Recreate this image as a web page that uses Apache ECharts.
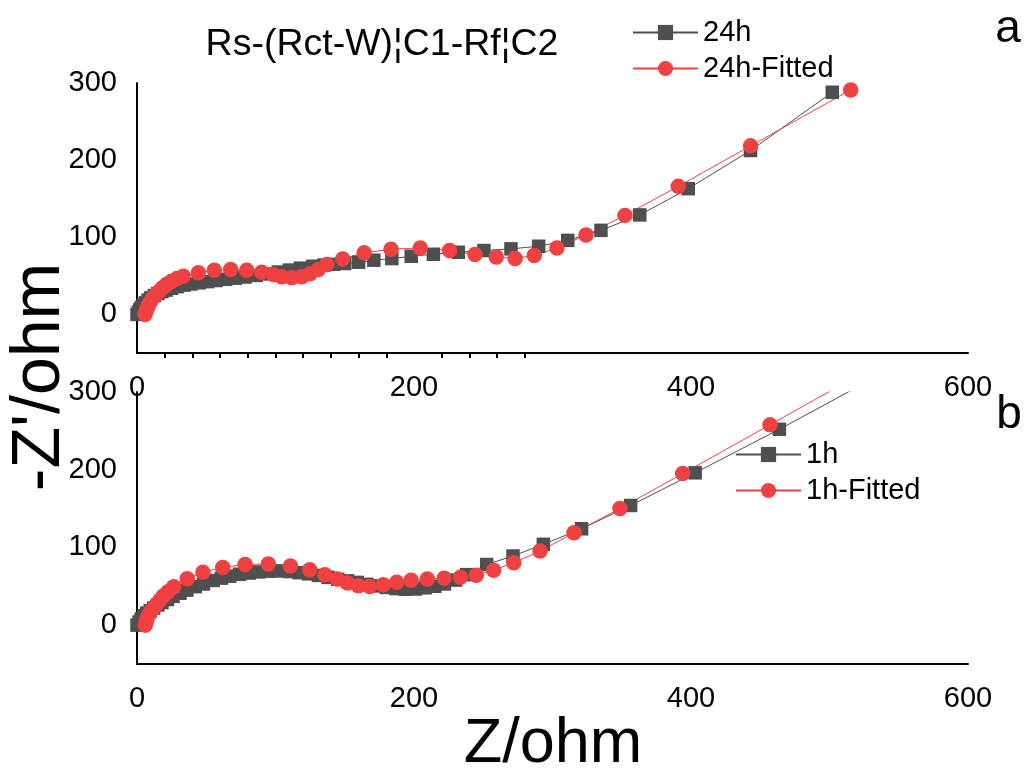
<!DOCTYPE html>
<html>
<head>
<meta charset="utf-8">
<script src="https://cdn.jsdelivr.net/npm/echarts@6/dist/echarts.min.js"></script>
<style>
html,body{margin:0;padding:0;background:#fff;}
#chart{width:1030px;height:771px;}
</style>
</head>
<body>
<div id="chart"></div>
<script>
// ---- data ----
const titleText = 'Rs-(Rct-W)\u00a6C1-Rf\u00a6C2';
const xTickLabels = [0, 200, 400, 600];
const yTickLabels = [0, 100, 200, 300];
const topMinorTicks = [20, 40, 60, 80, 100, 120, 140, 160, 180, 220, 240, 260, 280];

const h24_x = [0,1,2,3,4.5,6,8,10,12.5,15,18,21,25,29,34,39,45,51,57,64,71,78,86,94,102,110,118,127,135,142,150,160,171,184,198,214,232,250.5,270,290,311,335,363,398,443,502];
const h24_y = [0,3,6,9,12,15,18.5,21.5,24.5,27,29.5,31.5,34,36,38,39.5,41,42.5,44,45.5,47,48.5,50.5,52.5,55,57.5,60,62.5,64,65,66,67.7,70.3,72.4,75.4,78,80.6,82.8,85,88.4,96,109,129,163,212.5,288];

const h24fit_x = [5.8,6.5,7.5,8.5,9.9,11.5,13.7,16,18.5,21.5,25,29,33.4,44.3,55.8,67.6,79.2,90,98.4,104.5,111.7,118.9,124.9,130.9,137,148.5,164,183.4,204.5,225.7,244,259.4,273,286.8,303.2,324.2,352.3,390.8,443,515.3];
const h24fit_y = [0,4,8.7,13,17.2,21.5,25.9,30,34.5,39,43,46.5,49.6,53.9,57.3,58.2,57.3,54.7,51.7,48.7,47.4,48.7,52.6,58.2,64.6,72,79.8,84.5,86.2,82.8,77.8,74.5,72.6,76.5,86.2,103,128.4,166,218.5,291];

const h1_x = [0,1.5,3,5,7,9.5,12,15,18,22,26,31,36,42,48,55,61,67,74,81,88,96,103,110,117,124,131,138,145,152,159,166,173,180,187,194,201,208,215,222,230,238,252.5,271.5,293.4,321,356.4,403,463.8,530];
const h1_y = [0,4,8,12,15.5,18.5,22,26,29,33,37,41,45,49.5,53,57.5,60.5,63,65.5,67,68.5,69.5,69.7,69,67.5,66,64,61.5,59,57,55,52.5,50.5,48.5,47,46.2,46.5,48,50,53,58,65,78,89,104,124,154,196,252,316];

const h1fit_x = [6,6.5,7.2,8.2,9.3,10.6,12.2,14.2,16.5,19,22.5,26.5,36.3,47.6,61.9,78,94.8,110.8,124.7,135.7,144.5,152,159.9,168,177.8,187.5,197.9,209.6,221.8,233.5,245,257.5,272,291,315.5,348.7,394,457,525];
const h1fit_y = [0,4,8,12,16,19.5,23,27,32,37.5,43,49.5,59.8,68,74.2,78,78.8,76,71.2,64.7,59.5,54.3,50.8,49.6,52,55.2,57.7,59.4,60.5,61.6,64.1,70.7,80.3,95.3,118.8,150,195,257.7,326];

// ---- build ----
const zip = (xs, ys) => xs.map((x, i) => [x, ys[i]]);
const FONT = '"Liberation Sans", Arial, sans-serif';
const GRAY = '#4f4f4f';
const RED = '#ef4141';

function xAxis(gridIndex, ticks) {
  return {
    type: 'value', gridIndex: gridIndex, min: 0, max: 600, interval: 200,
    splitLine: { show: false },
    axisLine: { show: true, onZero: false, lineStyle: { color: '#000', width: 2 } },
    axisTick: ticks ? { show: true, customValues: ticks, length: 5, lineStyle: { color: '#000', width: 2 } } : { show: false },
    axisLabel: { margin: 20, color: '#000', fontSize: 29, fontFamily: FONT,
      formatter: v => xTickLabels.indexOf(v) >= 0 ? String(v) : '' }
  };
}
function yAxis(gridIndex) {
  return {
    type: 'value', gridIndex: gridIndex, min: -50, max: 300, interval: 50,
    splitLine: { show: false },
    axisLine: { show: true, onZero: false, lineStyle: { color: '#000', width: 2 } },
    axisTick: { show: false },
    axisLabel: { margin: 20, color: '#000', fontSize: 29, fontFamily: FONT,
      formatter: v => yTickLabels.indexOf(v) >= 0 ? String(v) : '' }
  };
}
function series(name, data, idx, sym, color, size) {
  return {
    name: name, type: 'line', xAxisIndex: idx, yAxisIndex: idx, data: data,
    symbol: sym, symbolSize: size, showSymbol: true,
    itemStyle: { color: color, opacity: 1 },
    lineStyle: { color: color, width: 1 },
    clip: true, animation: false
  };
}

const chart = echarts.init(document.getElementById('chart'), null, { renderer: 'canvas' });
chart.setOption({
  animation: false,
  backgroundColor: '#fff',
  textStyle: { fontFamily: FONT },
  grid: [
    { left: 137, top: 83, width: 831, height: 270 },
    { left: 137, top: 392, width: 831, height: 272 }
  ],
  xAxis: [xAxis(0, topMinorTicks), xAxis(1, null)],
  yAxis: [yAxis(0), yAxis(1)],
  legend: [
    { data: ['24h', '24h-Fitted'], orient: 'vertical', left: 632, top: 17, padding: 0,
      itemWidth: 65, itemHeight: 19, itemGap: 5,
      textStyle: { fontSize: 29, lineHeight: 31, color: '#000', fontFamily: FONT } },
    { data: ['1h', '1h-Fitted'], orient: 'vertical', left: 735, top: 439, padding: 0,
      itemWidth: 65, itemHeight: 19, itemGap: 5,
      textStyle: { fontSize: 29, lineHeight: 31, color: '#000', fontFamily: FONT } }
  ],
  series: [
    series('24h', zip(h24_x, h24_y), 0, 'rect', GRAY, 13.5),
    series('24h-Fitted', zip(h24fit_x, h24fit_y), 0, 'circle', RED, 15.5),
    series('1h', zip(h1_x, h1_y), 1, 'rect', GRAY, 13.5),
    series('1h-Fitted', zip(h1fit_x, h1fit_y), 1, 'circle', RED, 15.5)
  ],
  graphic: [
    { type: 'text', x: 382, y: 45, style: { text: titleText, fontSize: 37.5, fontFamily: FONT, fill: '#000', align: 'center', verticalAlign: 'middle' } },
    { type: 'text', x: 1008, y: 29, style: { text: 'a', fontSize: 46, fontFamily: FONT, fill: '#000', align: 'center', verticalAlign: 'middle' } },
    { type: 'text', x: 1009, y: 415, style: { text: 'b', fontSize: 46, fontFamily: FONT, fill: '#000', align: 'center', verticalAlign: 'middle' } },
    { type: 'text', x: 553, y: 745, style: { text: 'Z/ohm', fontSize: 63, fontFamily: FONT, fill: '#000', align: 'center', verticalAlign: 'middle' } },
    { type: 'text', x: 40, y: 377, rotation: Math.PI / 2, style: { text: "-Z'/ohm", fontSize: 68, fontFamily: FONT, fill: '#000', align: 'center', verticalAlign: 'middle' } }
  ]
});
</script>
</body>
</html>
